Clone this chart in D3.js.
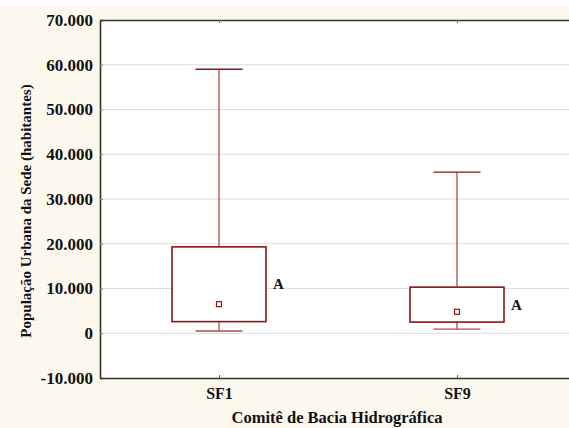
<!DOCTYPE html>
<html>
<head>
<meta charset="utf-8">
<script src="https://cdn.jsdelivr.net/npm/d3@7"></script>
<style>
  body { margin: 0; background: #fff; }
  text { font-family: 'Liberation Serif', 'Times New Roman', 'DejaVu Serif', serif; font-weight: bold; fill: #111; }
</style>
</head>
<body>
<svg id="chart" width="569" height="428"></svg>
<script>
// data
const categories = ['SF1', 'SF9'];
const whiskerMax = [59000, 36000];
const q3 = [19300, 10300];
const q1 = [2600, 2500];
const whiskerMin = [500, 900];
const centre = [6500, 4800];
const groupLabels = ['A', 'A'];
const yTicks = [-10000, 0, 10000, 20000, 30000, 40000, 50000, 60000, 70000];

const W = 569, H = 428;
const plotLeft = 100, plotTop = 20, plotBottom = 378, plotRight = 576;
const serif = "'Liberation Serif', 'Times New Roman', 'DejaVu Serif', serif";

const svg = d3.select('#chart');

// cream page behind the graph
svg.append('rect')
  .attr('x', 0).attr('y', 6)
  .attr('width', W).attr('height', H - 6)
  .attr('fill', '#fdf8ee');

const fmt = d3.formatLocale({ decimal: ',', thousands: '.', grouping: [3], currency: ['', ''], minus: '-' }).format(',d');

const x = d3.scalePoint()
  .domain(categories)
  .range([plotLeft, plotRight])
  .padding(0.5);

const y = d3.scaleLinear()
  .domain([-10000, 70000])
  .range([plotBottom, plotTop]);

// plot area
svg.append('rect')
  .attr('x', plotLeft).attr('y', plotTop)
  .attr('width', plotRight - plotLeft).attr('height', plotBottom - plotTop)
  .attr('fill', '#fff');

// grid
svg.append('g')
  .selectAll('line')
  .data(yTicks.slice(1, -1)).enter()
  .append('line')
  .attr('x1', plotLeft).attr('x2', plotRight)
  .attr('y1', d => y(d)).attr('y2', d => y(d))
  .attr('stroke', '#dcdcdc')
  .attr('stroke-width', 1);

// y axis
const yAxis = svg.append('g')
  .attr('transform', `translate(${plotLeft},0)`)
  .attr('font-family', serif)
  .call(d3.axisLeft(y).tickValues(yTicks).tickFormat(fmt).tickSize(-3).tickPadding(7));
yAxis.select('.domain').attr('stroke', '#333').attr('stroke-width', 1.6);
yAxis.selectAll('.tick line').attr('stroke', '#888');
yAxis.selectAll('text')
  .style('font-size', '17px')
  .style('font-family', serif)
  .style('font-weight', 'bold')
  .attr('fill', '#111');

// top and bottom frame lines with inward ticks
const xBottom = svg.append('g')
  .attr('transform', `translate(0,${plotBottom})`)
  .call(d3.axisBottom(x).tickSize(-3).tickPadding(10).tickSizeOuter(0));
xBottom.select('.domain').attr('stroke', '#333').attr('stroke-width', 1.6);
xBottom.selectAll('.tick line').attr('stroke', '#666');
xBottom.selectAll('text')
  .style('font-size', '16px')
  .style('font-family', serif)
  .style('font-weight', 'bold')
  .attr('fill', '#111');

const xTop = svg.append('g')
  .attr('transform', `translate(0,${plotTop})`)
  .call(d3.axisTop(x).tickSize(-3).tickFormat('').tickSizeOuter(0));
xTop.select('.domain').attr('stroke', '#333').attr('stroke-width', 1.6);
xTop.selectAll('.tick line').attr('stroke', '#666');

// axis titles
svg.append('text')
  .attr('transform', `translate(31,${(y(70000) + y(-10000)) / 2 + 12}) rotate(-90)`)
  .attr('text-anchor', 'middle')
  .style('font-size', '15px')
  .text('População Urbana da Sede (habitantes)');

svg.append('text')
  .attr('x', 337)
  .attr('y', 423)
  .attr('text-anchor', 'middle')
  .style('font-size', '16.5px')
  .text('Comitê de Bacia Hidrográfica');

// boxes
const boxW = 94, capW = 47, dark = '#8b1414', light = '#b44848';

const g = svg.selectAll('.box')
  .data(categories).enter()
  .append('g')
  .attr('class', 'box');

g.append('line')
  .attr('x1', d => x(d)).attr('x2', d => x(d))
  .attr('y1', (d, i) => y(whiskerMax[i])).attr('y2', (d, i) => y(q3[i]))
  .attr('stroke', light).attr('stroke-width', 1.3);

g.append('line')
  .attr('x1', d => x(d)).attr('x2', d => x(d))
  .attr('y1', (d, i) => y(q1[i])).attr('y2', (d, i) => y(whiskerMin[i]))
  .attr('stroke', light).attr('stroke-width', 1.3);

g.append('line')
  .attr('x1', d => x(d) - capW / 2).attr('x2', d => x(d) + capW / 2)
  .attr('y1', (d, i) => y(whiskerMax[i])).attr('y2', (d, i) => y(whiskerMax[i]))
  .attr('stroke', dark).attr('stroke-width', 1.3);

g.append('line')
  .attr('x1', d => x(d) - capW / 2).attr('x2', d => x(d) + capW / 2)
  .attr('y1', (d, i) => y(whiskerMin[i])).attr('y2', (d, i) => y(whiskerMin[i]))
  .attr('stroke', light).attr('stroke-width', 1.3);

g.append('rect')
  .attr('x', d => x(d) - boxW / 2)
  .attr('y', (d, i) => y(q3[i]))
  .attr('width', boxW)
  .attr('height', (d, i) => y(q1[i]) - y(q3[i]))
  .attr('fill', '#fff')
  .attr('stroke', dark).attr('stroke-width', 1.6);

g.append('rect')
  .attr('x', d => x(d) - 2.5)
  .attr('y', (d, i) => y(centre[i]) - 2.5)
  .attr('width', 5).attr('height', 5)
  .attr('fill', '#fff')
  .attr('stroke', dark).attr('stroke-width', 1.2);

g.append('text')
  .attr('x', d => x(d) + boxW / 2 + 7)
  .attr('y', (d, i) => (y(q1[i]) + y(q3[i])) / 2 + 5)
  .style('font-size', '15px')
  .text((d, i) => groupLabels[i]);
</script>
</body>
</html>
